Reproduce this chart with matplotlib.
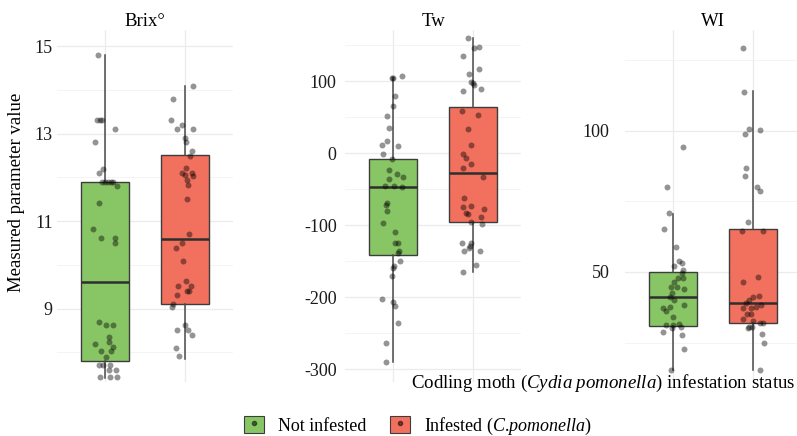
import matplotlib
matplotlib.use("Agg")
import matplotlib.pyplot as plt
from matplotlib.patches import Patch
from matplotlib.lines import Line2D
from matplotlib.legend_handler import HandlerTuple

plt.rcParams['font.family'] = ['Liberation Serif', 'DejaVu Serif']
plt.rcParams['mathtext.fontset'] = 'custom'
plt.rcParams['mathtext.rm'] = 'Liberation Serif'
plt.rcParams['mathtext.it'] = 'Liberation Serif:italic'

# ---------------- data ----------------
groups = ["Not infested", "Infested (C.pomonella)"]
panels = ["Brix°", "Tw", "WI"]

# box statistics: (whislo, q1, med, q3, whishi)
brix_box_ni = [7.41, 7.8, 9.6, 11.9, 14.8]
brix_box_inf = [7.85, 9.1, 10.6, 12.5, 14.1]
tw_box_ni = [-290, -142, -47, -8, 105]
tw_box_inf = [-165, -96, -28, 64, 160]
wi_box_ni = [15.2, 30.9, 41.1, 50.0, 70.6]
wi_box_inf = [15.2, 31.9, 39.0, 65.2, 114.2]

# jittered observations
brix_ni = [14.8, 13.31, 13.31, 13.31, 13.1, 12.8, 12.2, 12.1, 11.9, 11.9, 11.9, 11.9, 11.9,
           11.8, 11.41, 10.82, 10.61, 10.61, 10.5, 8.69, 8.62, 8.62, 8.35, 8.23, 8.2, 8.12,
           8.03, 8.03, 7.89, 7.7, 7.7, 7.7, 7.6, 7.6, 7.43, 7.43, 7.43]
brix_ni_dx = [-0.09, -0.10, -0.06, -0.04, 0.12, -0.12, -0.02, -0.07, -0.04, 0.0, 0.04, 0.07, 0.10,
              0.15, -0.07, -0.15, -0.05, 0.12, 0.12, -0.07, 0.01, 0.10, 0.05, 0.05, -0.12, 0.10,
              -0.05, 0.07, 0.01, -0.07, -0.02, 0.06, 0.05, 0.14, -0.06, 0.06, 0.15]
brix_inf = [14.09, 13.79, 13.31, 13.2, 13.1, 13.1, 12.9, 12.81, 12.6, 12.49, 12.21, 12.1, 12.05,
            12.1, 12.03, 11.94, 11.83, 11.5, 10.7, 10.5, 10.39, 10.09, 9.63, 9.51, 9.51, 9.4,
            9.4, 9.31, 9.1, 9.03, 8.62, 8.5, 8.5, 8.39, 8.1, 7.91]
brix_inf_dx = [0.10, -0.15, -0.18, -0.04, -0.10, 0.10, 0.0, 0.01, 0.09, 0.06, 0.01, -0.04, 0.0,
               0.09, 0.10, 0.02, 0.04, 0.02, 0.05, -0.04, -0.11, -0.02, 0.01, -0.09, 0.07, 0.02,
               0.05, -0.10, -0.15, -0.16, 0.0, -0.10, 0.04, 0.09, -0.11, -0.07]

tw_ni = [104, 104, 107, 79, 65, 51, 35, 17, 11, 10, -1, -8, -24, -29, -33, -36, -46, -46, -47,
         -69, -72, -80, -97, -110, -125, -125, -136, -139, -150, -157, -160, -171, -203, -207,
         -212, -236, -264, -290]
tw_ni_dx = [-0.01, 0.0, 0.11, 0.03, 0.0, -0.08, -0.05, -0.08, -0.14, 0.06, -0.13, -0.01, -0.05,
            0.05, 0.13, -0.05, -0.10, 0.01, 0.11, -0.08, -0.09, -0.08, -0.13, 0.03, 0.03, 0.06,
            0.08, 0.06, 0.09, 0.01, 0.0, -0.01, -0.14, 0.0, 0.03, 0.06, -0.09, -0.09]
tw_inf = [160, 146, 147, 135, 117, 110, 99, 97, 94, 86, 89, 58, 53, 33, 11, -1, -7, -15, -21,
          -33, -62, -75, -74, -83, -85, -89, -78, -96, -99, -125, -125, -129, -136, -132, -136,
          -155, -165]
tw_inf_dx = [-0.06, 0.01, 0.08, -0.13, 0.08, -0.05, -0.03, 0.0, 0.01, -0.13, 0.10, -0.14, 0.06,
             -0.06, -0.03, -0.13, -0.09, -0.03, -0.13, 0.13, -0.11, -0.13, -0.03, -0.09, -0.06,
             0.10, 0.14, -0.03, 0.11, -0.14, -0.03, -0.04, -0.11, -0.05, 0.09, 0.04, -0.13]

wi_ni = [94.3, 80.1, 70.9, 65.2, 58.9, 53.9, 53.2, 52.1, 50.7, 49.6, 47.9, 47.9, 46.5, 44.7,
         44.7, 44.0, 42.6, 41.1, 40.0, 38.3, 37.2, 36.2, 37.6, 34.0, 31.2, 31.2, 31.6, 30.5,
         28.7, 30.1, 27.7, 22.7, 15.2]
wi_ni_dx = [0.13, -0.08, -0.05, -0.11, 0.04, 0.08, 0.11, 0.01, 0.13, 0.11, 0.06, 0.13, 0.01,
            -0.03, 0.05, 0.14, -0.01, -0.04, 0.01, 0.14, -0.13, -0.09, -0.04, 0.0, -0.09, 0.0,
            0.08, 0.10, -0.13, -0.01, 0.11, 0.14, -0.03]
wi_inf = [129.4, 113.8, 100.7, 98.9, 100.4, 86.9, 84.0, 80.1, 78.7, 67.7, 64.5, 64.5, 46.5,
          48.2, 41.5, 41.1, 40.0, 38.3, 39.0, 37.2, 37.2, 37.6, 35.1, 35.1, 33.3, 32.6, 30.5,
          30.1, 30.5, 31.9, 31.9, 28.0, 24.8, 15.2]
wi_inf_dx = [-0.13, -0.11, -0.05, -0.10, 0.09, -0.09, -0.10, 0.05, 0.09, -0.06, -0.14, 0.13,
             -0.13, 0.06, 0.08, 0.0, -0.05, 0.10, -0.09, -0.13, -0.03, 0.04, -0.08, -0.03,
             -0.13, 0.0, -0.05, -0.06, -0.01, 0.09, 0.13, 0.11, 0.14, 0.09]

brix_ticks = [9, 11, 13, 15]
tw_ticks = [-300, -200, -100, 0, 100]
wi_ticks = [50, 100]

# ---------------- style ----------------
green = '#88C665'
red = '#F2705E'
W, H = 797, 436
fig = plt.figure(figsize=(W / 100, H / 100), dpi=100)

top_px, bot_px = 30, 382
panel_specs = [
    dict(left=57, title=panels[0], boxes=(brix_box_ni, brix_box_inf),
         pts=((brix_ni, brix_ni_dx), (brix_inf, brix_inf_dx)),
         ylim=(7.32, 15.37), ticks=brix_ticks, minor=[8, 10, 12, 14], pad=3),
    dict(left=345, title=panels[1], boxes=(tw_box_ni, tw_box_inf),
         pts=((tw_ni, tw_ni_dx), (tw_inf, tw_inf_dx)),
         ylim=(-318, 171), ticks=tw_ticks, minor=[-250, -150, -50, 50, 150], pad=6),
    dict(left=625, title=panels[2], boxes=(wi_box_ni, wi_box_inf),
         pts=((wi_ni, wi_ni_dx), (wi_inf, wi_inf_dx)),
         ylim=(11.0, 135.8), ticks=wi_ticks, minor=[25, 75, 125], pad=11),
]

for spec in panel_specs:
    ax = fig.add_axes([spec['left'] / W, 1 - bot_px / H, 176 / W, (bot_px - top_px) / H])

    stats = []
    for b in spec['boxes']:
        stats.append(dict(whislo=b[0], q1=b[1], med=b[2], q3=b[3], whishi=b[4]))
    bp = ax.bxp(stats, positions=[1, 2], widths=0.6, patch_artist=True,
                showfliers=False, showcaps=False, manage_ticks=False,
                boxprops=dict(edgecolor='#3d3d3d', lw=1.0),
                medianprops=dict(color='#2e2e2e', lw=1.8),
                whiskerprops=dict(color='#4a4a4a', lw=1.1))
    for patch, c in zip(bp['boxes'], [green, red]):
        patch.set_facecolor(c)
    for i, (vals, dx) in enumerate(spec['pts']):
        xs = [i + 1 + d for d in dx]
        ax.plot(xs, vals, 'o', color='black', alpha=0.42, ms=4.3, mew=0, zorder=5)

    ax.set_xlim(0.4, 2.6)
    ax.set_ylim(*spec['ylim'])
    for s in ax.spines.values():
        s.set_visible(False)
    ax.set_xticks([1, 2])
    ax.set_xticklabels(['', ''])
    ax.set_yticks(spec['ticks'])
    ax.set_yticklabels([str(t) for t in spec['ticks']])
    ax.set_yticks(spec['minor'], minor=True)
    ax.tick_params(axis='both', which='both', length=0)
    ax.tick_params(axis='y', labelsize=13, pad=spec['pad'], labelcolor='#1a1a1a')
    ax.grid(True, which='major', color='#EBEBEB', lw=0.9)
    ax.grid(True, which='minor', axis='y', color='#F2F2F2', lw=0.6)
    ax.set_axisbelow(True)

    cx = (spec['left'] + 88) / W
    fig.text(cx, 1 - 22 / H, spec['title'], ha='center', va='center', fontsize=13.5)

fig.text(17 / W, 1 - 192 / H, 'Measured parameter value', rotation=90,
         ha='center', va='center', fontsize=13.5)
fig.text(603 / W, 1 - 383 / H,
         r'Codling moth ($\mathit{Cydia\ pomonella}$) infestation status',
         ha='center', va='center', fontsize=13.6)

h1 = (Patch(facecolor=green, edgecolor='#3d3d3d', lw=0.8),
      Line2D([], [], marker='o', ls='', color='black', alpha=0.5, ms=3))
h2 = (Patch(facecolor=red, edgecolor='#3d3d3d', lw=0.8),
      Line2D([], [], marker='o', ls='', color='black', alpha=0.5, ms=3))
fig.legend([h1, h2], [groups[0], r'Infested ($\mathit{C}$.$\mathit{pomonella}$)'],
           handler_map={tuple: HandlerTuple(ndivide=1)},
           loc='center', bbox_to_anchor=(418 / W, 1 - 426 / H), ncol=2, frameon=False,
           fontsize=13, handlelength=1.1, handleheight=1.1, handletextpad=0.8,
           columnspacing=1.3, borderpad=0)

fig.savefig('out.png', dpi=100)
